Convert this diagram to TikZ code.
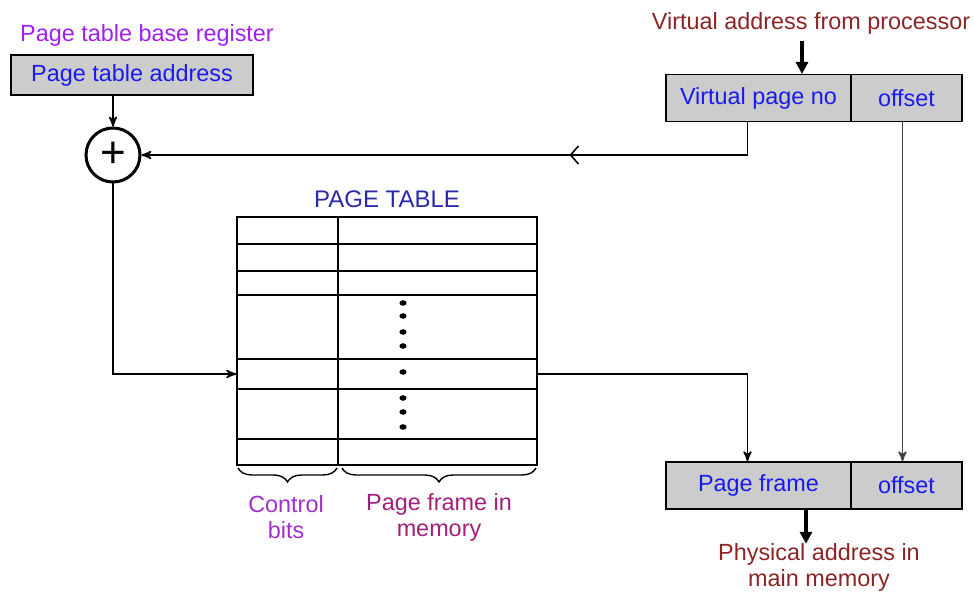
\documentclass[tikz,border=0pt]{standalone}
\usepackage{fontspec}
\setmainfont{Liberation Sans}
\usetikzlibrary{positioning, arrows.meta, arrows, decorations.pathreplacing, decorations.markings}

\definecolor{regviolet}{HTML}{A020F0}
\definecolor{addrblue}{HTML}{1A1AF0}
\definecolor{tabblue}{HTML}{2A2AA8}
\definecolor{procred}{HTML}{8B2525}
\definecolor{ctrlpurple}{HTML}{A030C8}
\definecolor{framemag}{HTML}{A0207A}

\begin{document}
\begin{tikzpicture}[x=0.5pt,y=-0.5pt,>=stealth',line width=0.8pt,
    every node/.style={font=\fontsize{11.7}{14}\selectfont},
    reg/.style={draw,fill=black!20,minimum height=23.5pt,inner sep=0pt,text=addrblue},
    adder/.style={draw,circle,line width=1.5pt,minimum size=27pt,inner sep=0pt,font=\fontsize{22}{22}\selectfont},
    bigarrow/.style={-{Triangle[length=6pt,width=6pt]},line width=1.6pt},
    brace/.style={decorate,decoration={brace,mirror,amplitude=7pt},line width=0.7pt},
    note/.style={align=center,font=\fontsize{11.7}{13}\selectfont}]
    \useasboundingbox (0,0) rectangle (974,593);

    % base register and adder
    \node[text=regviolet] (ptbr) at (147,35) {Page table base register};
    \node[reg,minimum width=121pt,minimum height=20pt] (pta) at (132,75) {Page table address};
    \node[adder] (add) at (113,155) {+};

    % virtual address
    \node[text=procred] (vaddr) at (811,23) {Virtual address from processor};
    \node[reg,minimum width=92.5pt] (vpn) at (758.5,98) {Virtual page no};
    \node[reg,minimum width=55.5pt] (voff) at (906.5,98) {offset\hspace{5pt}};

    % page table
    \node[text=tabblue,font=\fontsize{12}{14}\selectfont] (ptitle) at (387,199) {PAGE TABLE};
    \node[draw,minimum width=150pt,minimum height=124pt,inner sep=0pt] (pt) at (387,341) {};
    \node[minimum width=150pt,minimum height=15pt,inner sep=0pt] (sel) at (387,374) {};
    \draw (338,217) -- (338,465);
    \foreach \y in {244,271,295,359,389,439}
        \draw (237,\y) -- (537,\y);
    \foreach \y in {303,316,332,346,372,398,412,427}
        \fill (403,\y) ellipse (1.8pt and 1.4pt);

    \draw[brace] (238,468) -- (337,468);
    \draw[brace] (342,468) -- (536,468);
    \node[note,text=ctrlpurple] (ctrl) at (286,517) {Control\\bits};
    \node[note,text=framemag] (frame) at (439,517) {Page frame in\\memory};

    % physical address
    \node[reg] [minimum width=92.5pt] (pf) at (758.5,485.5) {Page frame};
    \node[reg,minimum width=55.5pt] (poff) at (906.5,485.5) {offset\hspace{5pt}};
    \node[note,text=procred] (phys) at (819,567) {Physical address in\\main memory};

    % connectors
    \draw[bigarrow] (vaddr.south -| 802,0) -- (802,74);
    \draw[->] (pta.south -| add) -- (add);
    \draw[->,postaction={decorate},decoration={markings,
        mark=at position 0.33 with {\arrow{Straight Barb[length=4pt,width=9pt]}}}]
        ([xshift=-5.5pt]vpn.south) |- (add.east);
    \draw[->] (add.south) |- (sel.west);
    \draw[->] (sel.east) -| ([xshift=-5.5pt]pf.north);
    \draw[->,draw=black!75] ([xshift=-2pt]voff.south) -- ([xshift=-2pt]poff.north);
    \draw[bigarrow] ([xshift=23.75pt]pf.south) -- ++(0,34);
\end{tikzpicture}
\end{document}
